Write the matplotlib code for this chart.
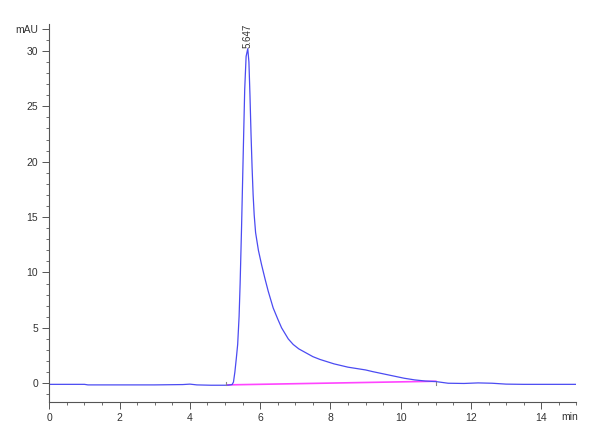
import matplotlib.pyplot as plt
from matplotlib.ticker import MultipleLocator

plt.rcParams['font.family'] = ['Liberation Sans', 'DejaVu Sans']

# chromatogram
time_min = [0.0, 1.0, 1.1, 2.0, 3.0, 3.8, 4.0, 4.2, 4.6, 5.0, 5.1, 5.2,
            5.24, 5.28, 5.32, 5.36, 5.40, 5.43, 5.47, 5.52, 5.56, 5.60, 5.647,
            5.68, 5.71, 5.74, 5.77, 5.80, 5.83, 5.87, 5.91, 5.95, 6.04, 6.14,
            6.23, 6.37, 6.5, 6.61, 6.8, 6.94, 7.1, 7.3, 7.5, 7.7, 8.1, 8.5,
            9.0, 9.2, 9.5, 9.8, 10.1, 10.4, 10.7, 11.0, 11.35, 11.8, 12.2,
            12.6, 13.0, 13.5, 14.0, 15.0]
signal_mau = [-0.1, -0.1, -0.15, -0.15, -0.15, -0.12, -0.08, -0.15, -0.18, -0.18, -0.17, -0.12,
              0.1, 1.0, 2.2, 3.5, 6.0, 9.0, 14.0, 21.0, 26.5, 29.5, 30.2,
              29.0, 26.0, 22.5, 19.5, 17.0, 15.2, 13.6, 12.8, 12.0, 10.7, 9.4,
              8.3, 6.8, 5.8, 5.0, 4.0, 3.5, 3.1, 2.75, 2.4, 2.15, 1.75, 1.45,
              1.2, 1.05, 0.85, 0.65, 0.45, 0.3, 0.2, 0.15, 0.0, -0.02, 0.03,
              0.0, -0.08, -0.1, -0.1, -0.1]

# integration baseline
base_t = [5.05, 11.0]
base_v = [-0.15, 0.18]

peak_rt = 5.647
peak_label = '5.647'

fig = plt.figure(figsize=(6, 4.4), dpi=100)
ax = fig.add_axes([0.0822, 0.0857, 0.8785, 0.8598])

ax.plot(base_t, base_v, color='#ff44ff', linewidth=1.2)
ax.plot(time_min, signal_mau, color='#4b4bf2', linewidth=0.9)

# integration start / end marks
ax.plot([5.03, 5.03], [0.1, -0.15], color='#888888', linewidth=0.8)
ax.plot([11.0, 11.0], [0.15, -0.2], color='#888888', linewidth=0.8)

ax.text(peak_rt, 30.3, peak_label, rotation=90, ha='center', va='bottom',
        fontsize=7, color='#333333')

ax.set_xlim(0, 15)
ax.set_ylim(-1.72, 32.43)

ax.xaxis.set_major_locator(MultipleLocator(2))
ax.xaxis.set_minor_locator(MultipleLocator(0.5))
ax.set_yticks([0, 5, 10, 15, 20, 25, 30, 32])
ax.set_yticklabels(['0', '5', '10', '15', '20', '25', '30', 'mAU'])
ax.yaxis.set_minor_locator(MultipleLocator(1))
ax.set_xticks(list(range(0, 15, 2)))

for s in ['top', 'right']:
    ax.spines[s].set_visible(False)
for s in ['left', 'bottom']:
    ax.spines[s].set_color('#555555')
    ax.spines[s].set_linewidth(0.8)

ax.tick_params(which='major', length=5, width=0.7, color='#555555',
               labelsize=7.5, labelcolor='#333333', pad=3)
ax.tick_params(which='minor', length=2.5, width=0.6, color='#555555')

fig.text(570 / 600, 1 - 417 / 440, 'min', ha='center', va='center',
         fontsize=7.5, color='#333333')

fig.savefig('out.png', dpi=100)
